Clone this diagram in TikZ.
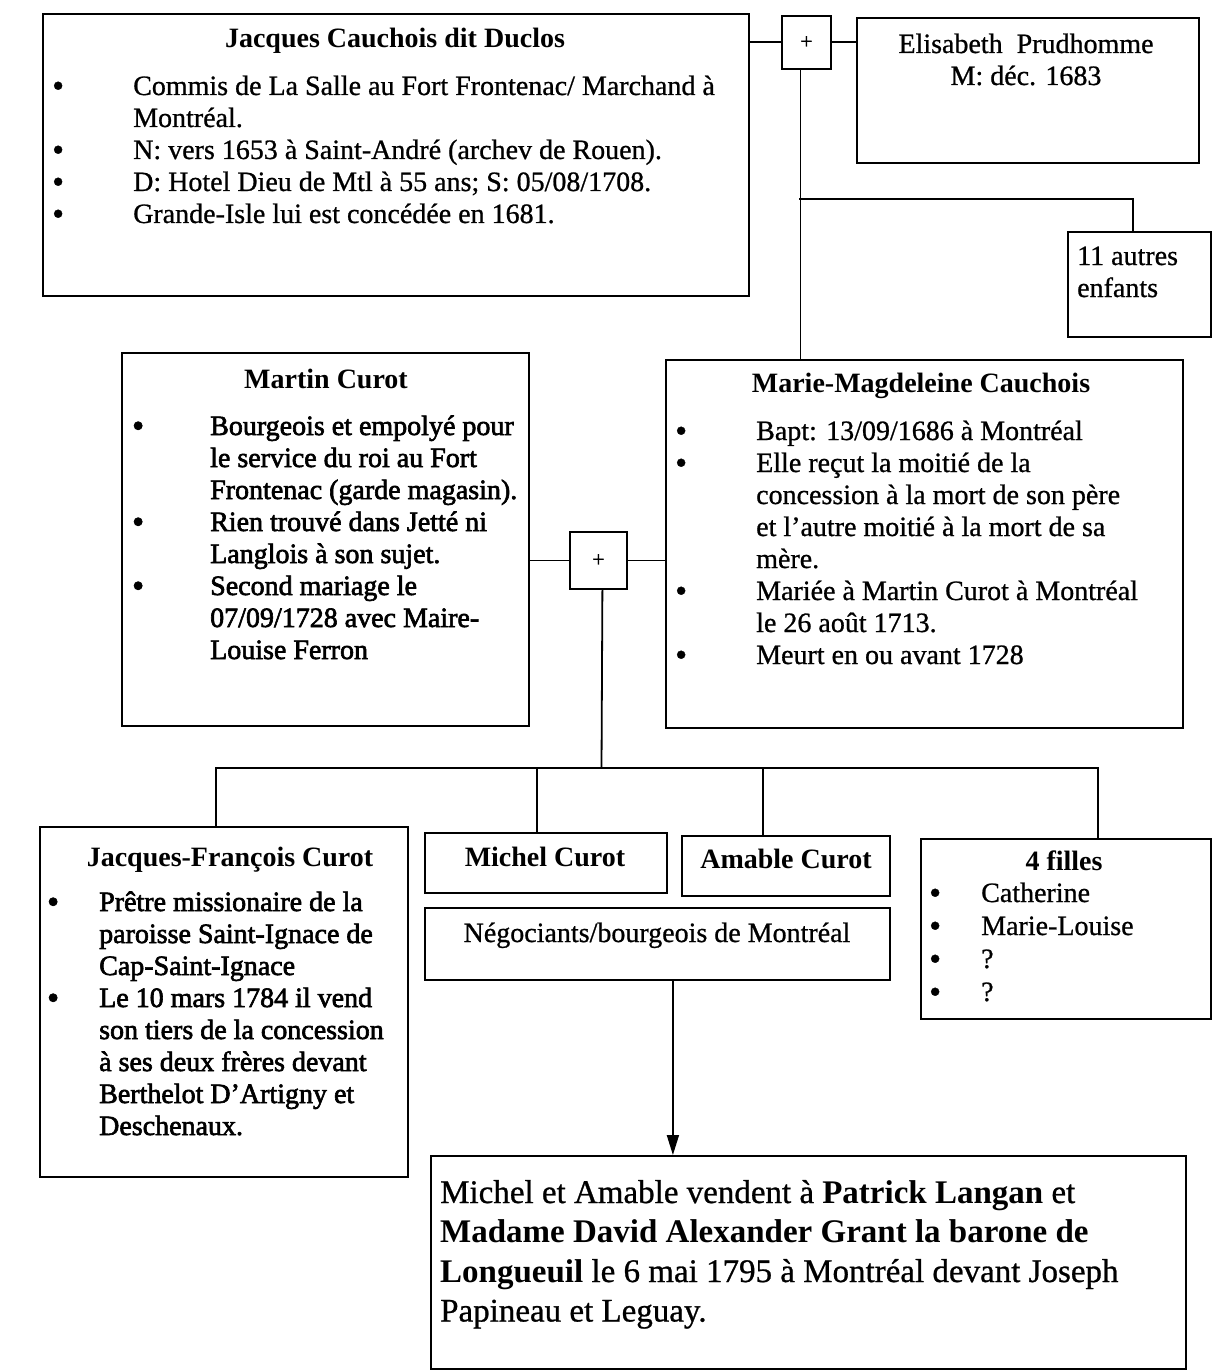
\documentclass[tikz,border=0pt]{standalone}
\usepackage{fontspec}
\usepackage{graphicx}
\setmainfont{Liberation Serif}[UprightFeatures={FakeBold=0.8}]
\newfontfamily\heavy{Liberation Serif}[FakeBold=2.2]
\usetikzlibrary{arrows.meta}
\newcommand\mybul[1]{\makebox[#1][l]{\raisebox{-2pt}{\fontsize{34}{32}\selectfont\textbullet}}}
\begin{document}
\begin{tikzpicture}[x=1pt,y=-1pt,
  box/.style={draw, line width=1.8pt, inner sep=0pt, anchor=north west, rectangle},
  txt/.style={inner sep=0pt, anchor=base west, font=\fontsize{28}{32}\selectfont},
  htxt/.style={inner sep=0pt, anchor=base west, font=\fontsize{28}{32}\selectfont\heavy},
  ttl/.style={inner sep=0pt, anchor=base, font=\fontsize{28}{32}\selectfont\bfseries},
  ctxt/.style={inner sep=0pt, anchor=base, font=\fontsize{28}{32}\selectfont},
  conn/.style={line width=1.8pt},
]
\useasboundingbox (0,0) rectangle (1212,1370);

% boxes
\node[box, minimum width=706pt, minimum height=282pt] (A) at (42,13) {};
\node[box, minimum width=49pt, minimum height=53pt] (P1) at (781,15) {};
\node[box, minimum width=342pt, minimum height=145pt] (E) at (856,17) {};
\node[box, minimum width=143pt, minimum height=105pt] (K) at (1067,231) {};
\node[box, minimum width=407pt, minimum height=373pt] (M) at (121,352) {};
\node[box, minimum width=57pt, minimum height=57pt] (P2) at (569,531) {};
\node[box, minimum width=517pt, minimum height=368pt] (MM) at (665,359) {};
\node[box, minimum width=368pt, minimum height=350pt] (JF) at (39,826) {};
\node[box, minimum width=242pt, minimum height=60pt] (MI) at (424,832) {};
\node[box, minimum width=208pt, minimum height=60pt] (AM) at (681,835) {};
\node[box, minimum width=465pt, minimum height=72pt] (NG) at (424,907) {};
\node[box, minimum width=290pt, minimum height=180pt] (F4) at (920,838) {};
\node[box, minimum width=755pt, minimum height=213pt] (FB) at (430,1155) {};

% plus signs
\node[inner sep=0pt, font=\fontsize{22}{26}\selectfont] (p1t) at (P1.center) {+};
\node[inner sep=0pt, font=\fontsize{22}{26}\selectfont] (p2t) at (P2.center) {+};

% texts box A
\node[ttl] (At) at (395,48) {Jacques Cauchois dit Duclos};
\node[txt] (Ab) at (52,95) {\begin{tabular}[t]{@{}l@{}l@{}}
\mybul{81pt} & Commis de La Salle au Fort Frontenac/ Marchand à\\
 & Montréal.\\
\mybul{81pt} & N: vers 1653 à Saint-André (archev de Rouen).\\
\mybul{81pt} & D: Hotel Dieu de Mtl à 55 ans; S: 05/08/1708.\\
\mybul{81pt} & Grande-Isle lui est concédée en 1681.
\end{tabular}};

% Elisabeth
\node[ctxt] (Et) at (1026,53) {\begin{tabular}[t]{@{}c@{}}
Elisabeth\ \ Prudhomme\\ M: déc. 1683\end{tabular}};

% 11 autres
\node[txt] (Kt) at (1077,265) {\begin{tabular}[t]{@{}l@{}}
11 autres\\ enfants\end{tabular}};

% Martin Curot
\node[ttl] (Mt) at (326,388) {Martin Curot};
\node[htxt] (Mb) at (132,435) {\begin{tabular}[t]{@{}l@{}l@{}}
\mybul{78pt} & Bourgeois et empolyé pour\\
 & le service du roi au Fort\\
 & Frontenac (garde magasin).\\
\mybul{78pt} & Rien trouvé dans Jetté ni\\
 & Langlois à son sujet.\\
\mybul{78pt} & Second mariage le\\
 & 07/09/1728 avec Maire-\\
 & Louise Ferron
\end{tabular}};

% Marie-Magdeleine
\node[ttl] (MMt) at (921,392) {Marie-Magdeleine Cauchois};
\node[txt] (MMb) at (675,440) {\begin{tabular}[t]{@{}l@{}l@{}}
\mybul{81pt} & Bapt: 13/09/1686 à Montréal\\
\mybul{81pt} & Elle reçut la moitié de la\\
 & concession à la mort de son père\\
 & et l’autre moitié à la mort de sa\\
 & mère.\\
\mybul{81pt} & Mariée à Martin Curot à Montréal\\
 & le 26 août 1713.\\
\mybul{81pt} & Meurt en ou avant 1728
\end{tabular}};

% Jacques-François
\node[ttl] (JFt) at (230,866) {Jacques-François Curot};
\node[htxt] (JFb) at (47,911) {\begin{tabular}[t]{@{}l@{}l@{}}
\mybul{52pt} & Prêtre missionaire de la\\
 & paroisse Saint-Ignace de\\
 & Cap-Saint-Ignace\\
\mybul{52pt} & Le 10 mars 1784 il vend\\
 & son tiers de la concession\\
 & à ses deux frères devant\\
 & Berthelot D’Artigny et\\
 & Deschenaux.
\end{tabular}};

% Michel, Amable, Negociants
\node[ttl] (MIt) at (545,866) {Michel Curot};
\node[ttl] (AMt) at (786,868) {Amable Curot};
\node[ctxt] (NGt) at (657,942) {Négociants/bourgeois de Montréal};

% 4 filles
\node[ttl] (F4t) at (1064,870) {4 filles};
\node[txt, font=\fontsize{28}{33}\selectfont] (F4b) at (929,902) {\begin{tabular}[t]{@{}l@{}l@{}}
\mybul{52pt} & Catherine\\
\mybul{52pt} & Marie-Louise\\
\mybul{52pt} & ?\\
\mybul{52pt} & ?
\end{tabular}};

% final box
\node[txt, font=\fontsize{33}{39.5}\selectfont] (FBt) at (440,1203) {\begin{tabular}[t]{@{}l@{}}
Michel et Amable vendent à \textbf{Patrick Langan} et\\
\textbf{Madame David Alexander Grant la barone de}\\
\textbf{Longueuil} le 6 mai 1795 à Montréal devant Joseph\\
Papineau et Leguay.
\end{tabular}};

% connectors
\draw[conn] (P1.west) -- (P1.west -| A.east);
\draw[conn] (P1.east) -- (P1.east -| E.west);
\coordinate (v1) at ([xshift=-6pt]P1.south);
\draw[conn] (v1) -- (v1 |- MM.north);
\coordinate (j1) at (799,199);
\draw[conn] (j1) -| ([xshift=-6.5pt]K.north);

\draw[conn] (P2.west) -- (P2.west -| M.east);
\draw[conn] (P2.east) -- (P2.east -| MM.west);
\coordinate (v2) at ([xshift=4pt]P2.south);
\coordinate (bus) at (601.5,768);
\draw[conn] (v2) -- (bus);
\draw[conn] (bus) -| ([xshift=-8pt]JF.north);
\draw[conn] (bus) -| ([xshift=-9pt]MI.north);
\draw[conn] (bus) -| ([xshift=-23pt]AM.north);
\draw[conn] (bus) -| ([xshift=32pt]F4.north);

\draw[conn, -{Triangle[width=12pt,length=20pt]}] ([xshift=15.5pt]NG.south) -- ([xshift=15.5pt]NG.south |- FB.north);
\end{tikzpicture}
\end{document}
